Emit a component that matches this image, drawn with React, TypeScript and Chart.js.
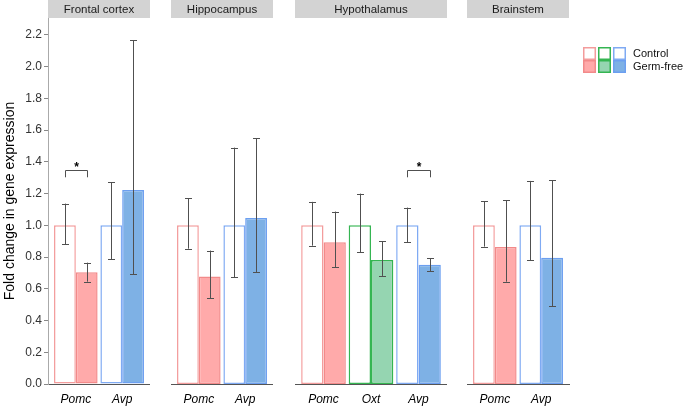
import React, { useEffect, useRef } from 'react';
import { Chart, registerables } from 'chart.js';

Chart.register(...registerables);

// ---------- data ----------
const regions = ['Frontal cortex', 'Hippocampus', 'Hypothalamus', 'Brainstem'];
const seriesNames = ['Control', 'Germ-free'];
const yTickStep = 0.2;
const yMax = 2.307;

const fcGenes = ['Pomc', 'Avp'];
const fcControl = [1.0, 1.0];
const fcControlLow = [0.881, 0.788];
const fcControlHigh = [1.137, 1.272];
const fcGermFree = [0.704, 1.223];
const fcGermFreeLow = [0.645, 0.692];
const fcGermFreeHigh = [0.765, 2.167];
const fcSignificant = [true, false];

const hipGenes = ['Pomc', 'Avp'];
const hipControl = [1.0, 1.0];
const hipControlLow = [0.853, 0.672];
const hipControlHigh = [1.171, 1.49];
const hipGermFree = [0.677, 1.047];
const hipGermFreeLow = [0.54, 0.706];
const hipGermFreeHigh = [0.841, 1.549];
const hipSignificant = [false, false];

const hypGenes = ['Pomc', 'Oxt', 'Avp'];
const hypControl = [1.0, 1.0, 1.0];
const hypControlLow = [0.872, 0.832, 0.895];
const hypControlHigh = [1.148, 1.2, 1.112];
const hypGermFree = [0.893, 0.782, 0.752];
const hypGermFreeLow = [0.736, 0.681, 0.71];
const hypGermFreeHigh = [1.087, 0.9, 0.794];
const hypSignificant = [false, false, true];

const bsGenes = ['Pomc', 'Avp'];
const bsControl = [1.0, 1.0];
const bsControlLow = [0.866, 0.78];
const bsControlHigh = [1.152, 1.28];
const bsGermFree = [0.864, 0.796];
const bsGermFreeLow = [0.645, 0.49];
const bsGermFreeHigh = [1.158, 1.284];
const bsSignificant = [false, false];

const bracketTop = 1.352;
const bracketBottom = 1.303;

// ---------- styles ----------
const FONT = "'Liberation Sans', Arial, sans-serif";
const ctrlStroke: Record<string, string> = { Pomc: '#F39C9C', Oxt: '#35B552', Avp: '#7FAAF3' };
const gfFill: Record<string, string> = { Pomc: '#FFAAAA', Oxt: '#95D5B1', Avp: '#7EB1E5' };
const gfStroke: Record<string, string> = { Pomc: '#F28A8A', Oxt: '#35B552', Avp: '#6C9FF0' };
const legendGenes = ['Pomc', 'Oxt', 'Avp'];

type Panel = {
  name: string;
  genes: string[];
  control: number[];
  controlLow: number[];
  controlHigh: number[];
  germ: number[];
  germLow: number[];
  germHigh: number[];
  sig: boolean[];
  left: number;
  width: number;
  yAxis: boolean;
  rightPad: number;
  legend: boolean;
};

const panels: Panel[] = [
  { name: regions[0], genes: fcGenes, control: fcControl, controlLow: fcControlLow, controlHigh: fcControlHigh, germ: fcGermFree, germLow: fcGermFreeLow, germHigh: fcGermFreeHigh, sig: fcSignificant, left: 0, width: 150, yAxis: true, rightPad: 0, legend: false },
  { name: regions[1], genes: hipGenes, control: hipControl, controlLow: hipControlLow, controlHigh: hipControlHigh, germ: hipGermFree, germLow: hipGermFreeLow, germHigh: hipGermFreeHigh, sig: hipSignificant, left: 171, width: 102, yAxis: false, rightPad: 0, legend: false },
  { name: regions[2], genes: hypGenes, control: hypControl, controlLow: hypControlLow, controlHigh: hypControlHigh, germ: hypGermFree, germLow: hypGermFreeLow, germHigh: hypGermFreeHigh, sig: hypSignificant, left: 295, width: 152, yAxis: false, rightPad: 0, legend: false },
  { name: regions[3], genes: bsGenes, control: bsControl, controlLow: bsControlLow, controlHigh: bsControlHigh, germ: bsGermFree, germLow: bsGermFreeLow, germHigh: bsGermFreeHigh, sig: bsSignificant, left: 467, width: 218, yAxis: false, rightPad: 116, legend: true },
];

function makePlugins(p: Panel) {
  const strip = {
    id: 'strip',
    beforeDraw(chart: any) {
      const { ctx, chartArea } = chart;
      ctx.save();
      ctx.fillStyle = '#D3D3D3';
      ctx.fillRect(chartArea.left, 0, chartArea.right - chartArea.left, 18);
      ctx.fillStyle = '#1a1a1a';
      ctx.font = `11.5px ${FONT}`;
      ctx.textAlign = 'center';
      ctx.textBaseline = 'middle';
      ctx.fillText(p.name, (chartArea.left + chartArea.right) / 2, 9.5);
      ctx.restore();
    },
  };
  const errorBars = {
    id: 'errorBars',
    afterDatasetsDraw(chart: any) {
      const { ctx } = chart;
      const y = chart.scales.y;
      const lows = [p.controlLow, p.germLow];
      const highs = [p.controlHigh, p.germHigh];
      ctx.save();
      ctx.strokeStyle = '#505050';
      ctx.lineWidth = 1;
      for (let d = 0; d < 2; d++) {
        const meta = chart.getDatasetMeta(d);
        meta.data.forEach((bar: any, i: number) => {
          const x = Math.round(bar.x) + 0.5;
          const y1 = y.getPixelForValue(lows[d][i]);
          const y2 = y.getPixelForValue(highs[d][i]);
          ctx.beginPath();
          ctx.moveTo(x, y1);
          ctx.lineTo(x, y2);
          ctx.moveTo(x - 3.5, Math.round(y1) + 0.5);
          ctx.lineTo(x + 3.5, Math.round(y1) + 0.5);
          ctx.moveTo(x - 3.5, Math.round(y2) + 0.5);
          ctx.lineTo(x + 3.5, Math.round(y2) + 0.5);
          ctx.stroke();
        });
      }
      ctx.restore();
    },
  };
  const sig = {
    id: 'sig',
    afterDatasetsDraw(chart: any) {
      const { ctx } = chart;
      const y = chart.scales.y;
      const m0 = chart.getDatasetMeta(0);
      const m1 = chart.getDatasetMeta(1);
      ctx.save();
      ctx.strokeStyle = '#505050';
      ctx.lineWidth = 1;
      p.sig.forEach((s, i) => {
        if (!s) return;
        const xa = Math.round(m0.data[i].x) + 0.5;
        const xb = Math.round(m1.data[i].x) + 0.5;
        const yt = Math.round(y.getPixelForValue(bracketTop)) + 0.5;
        const yb = y.getPixelForValue(bracketBottom);
        ctx.beginPath();
        ctx.moveTo(xa, yb);
        ctx.lineTo(xa, yt);
        ctx.lineTo(xb, yt);
        ctx.lineTo(xb, yb);
        ctx.stroke();
        ctx.fillStyle = '#000';
        ctx.font = `bold 12px ${FONT}`;
        ctx.textAlign = 'center';
        ctx.textBaseline = 'middle';
        ctx.fillText('*', (xa + xb) / 2, yt - 2.5);
      });
      ctx.restore();
    },
  };
  const legend = {
    id: 'customLegend',
    afterDraw(chart: any) {
      if (!p.legend) return;
      const { ctx, chartArea } = chart;
      const x0 = chartArea.right + 14;
      const top = 47;
      const sz = 13;
      ctx.save();
      ctx.lineWidth = 1.5;
      legendGenes.forEach((g, k) => {
        const x = x0 + k * 15;
        ctx.fillStyle = '#ffffff';
        ctx.fillRect(x, top, sz, sz);
        ctx.strokeStyle = ctrlStroke[g];
        ctx.strokeRect(x + 0.75, top + 0.75, sz - 1.5, sz - 1.5);
        ctx.fillStyle = gfFill[g];
        ctx.fillRect(x, top + sz, sz, sz);
        ctx.strokeStyle = gfStroke[g];
        ctx.strokeRect(x + 0.75, top + sz + 0.75, sz - 1.5, sz - 1.5);
      });
      ctx.fillStyle = '#111';
      ctx.font = `11px ${FONT}`;
      ctx.textAlign = 'left';
      ctx.textBaseline = 'middle';
      const tx = x0 + 3 * 15 + 5;
      ctx.fillText(seriesNames[0], tx, top + 7);
      ctx.fillText(seriesNames[1], tx, top + sz + 7);
      ctx.restore();
    },
  };
  return [strip, errorBars, sig, legend];
}

function PanelChart({ p }: { p: Panel }) {
  const ref = useRef<HTMLCanvasElement>(null);
  useEffect(() => {
    if (!ref.current) return;
    const n = p.genes.length;
    const chart = new Chart(ref.current, {
      type: 'bar',
      data: {
        datasets: [
          {
            label: seriesNames[0],
            data: p.genes.map((_, i) => ({ x: i, y: p.control[i] })),
            backgroundColor: p.genes.map(() => '#ffffff'),
            borderColor: p.genes.map((g) => ctrlStroke[g]),
            borderWidth: 1.5,
            borderSkipped: false,
            categoryPercentage: 0.94,
            barPercentage: 1,
          },
          {
            label: seriesNames[1],
            data: p.genes.map((_, i) => ({ x: i, y: p.germ[i] })),
            backgroundColor: p.genes.map((g) => gfFill[g]),
            borderColor: p.genes.map((g) => gfStroke[g]),
            borderWidth: 1.5,
            borderSkipped: false,
            categoryPercentage: 0.94,
            barPercentage: 1,
          },
        ] as any,
      },
      options: {
        animation: false,
        responsive: false,
        maintainAspectRatio: false,
        layout: { padding: { top: 18, left: 0, right: p.rightPad, bottom: 0 } },
        plugins: { legend: { display: false }, tooltip: { enabled: false } },
        scales: {
          x: {
            type: 'linear',
            offset: false,
            bounds: 'data',
            min: -0.6,
            max: n - 1 + 0.6,
            afterBuildTicks: (s: any) => {
              s.ticks = p.genes.map((_, i) => ({ value: i }));
            },
            afterFit: (s: any) => {
              s.height = 24;
            },
            ticks: {
              autoSkip: false,
              maxRotation: 0,
              padding: 8,
              color: '#000',
              font: { family: FONT, size: 12, style: 'italic' },
              callback: (v: any) => p.genes[Math.round(Number(v))] ?? '',
            },
            grid: { display: false, drawTicks: false, offset: false },
            border: { display: true, color: '#555555', width: 1 },
          },
          y: {
            display: p.yAxis,
            min: 0,
            max: yMax,
            afterFit: (s: any) => {
              s.width = p.yAxis ? 48 : 0;
            },
            ticks: {
              stepSize: yTickStep,
              includeBounds: false,
              padding: 2,
              color: '#333',
              font: { family: FONT, size: 12 },
              callback: (v: any) => Number(v).toFixed(1),
            },
            grid: { display: true, drawOnChartArea: false, drawTicks: true, tickLength: 4, color: '#888' },
            border: { display: true, color: '#AAAAAA', width: 1 },
            title: {
              display: true,
              text: 'Fold change in gene expression',
              color: '#000',
              font: { family: FONT, size: 14 },
              padding: { top: 2, bottom: 0 },
            },
          },
        },
      } as any,
      plugins: makePlugins(p) as any,
    });
    return () => chart.destroy();
  }, [p]);
  return (
    <div style={{ position: 'absolute', left: p.left, top: 0, width: p.width, height: 408 }}>
      <canvas ref={ref} width={p.width} height={408} style={{ display: 'block' }} />
    </div>
  );
}

export default function App() {
  return (
    <div style={{ position: 'fixed', left: 0, top: 0, width: 685, height: 408, background: '#fff', overflow: 'hidden' }}>
      {panels.map((p) => (
        <PanelChart key={p.name} p={p} />
      ))}
    </div>
  );
}
